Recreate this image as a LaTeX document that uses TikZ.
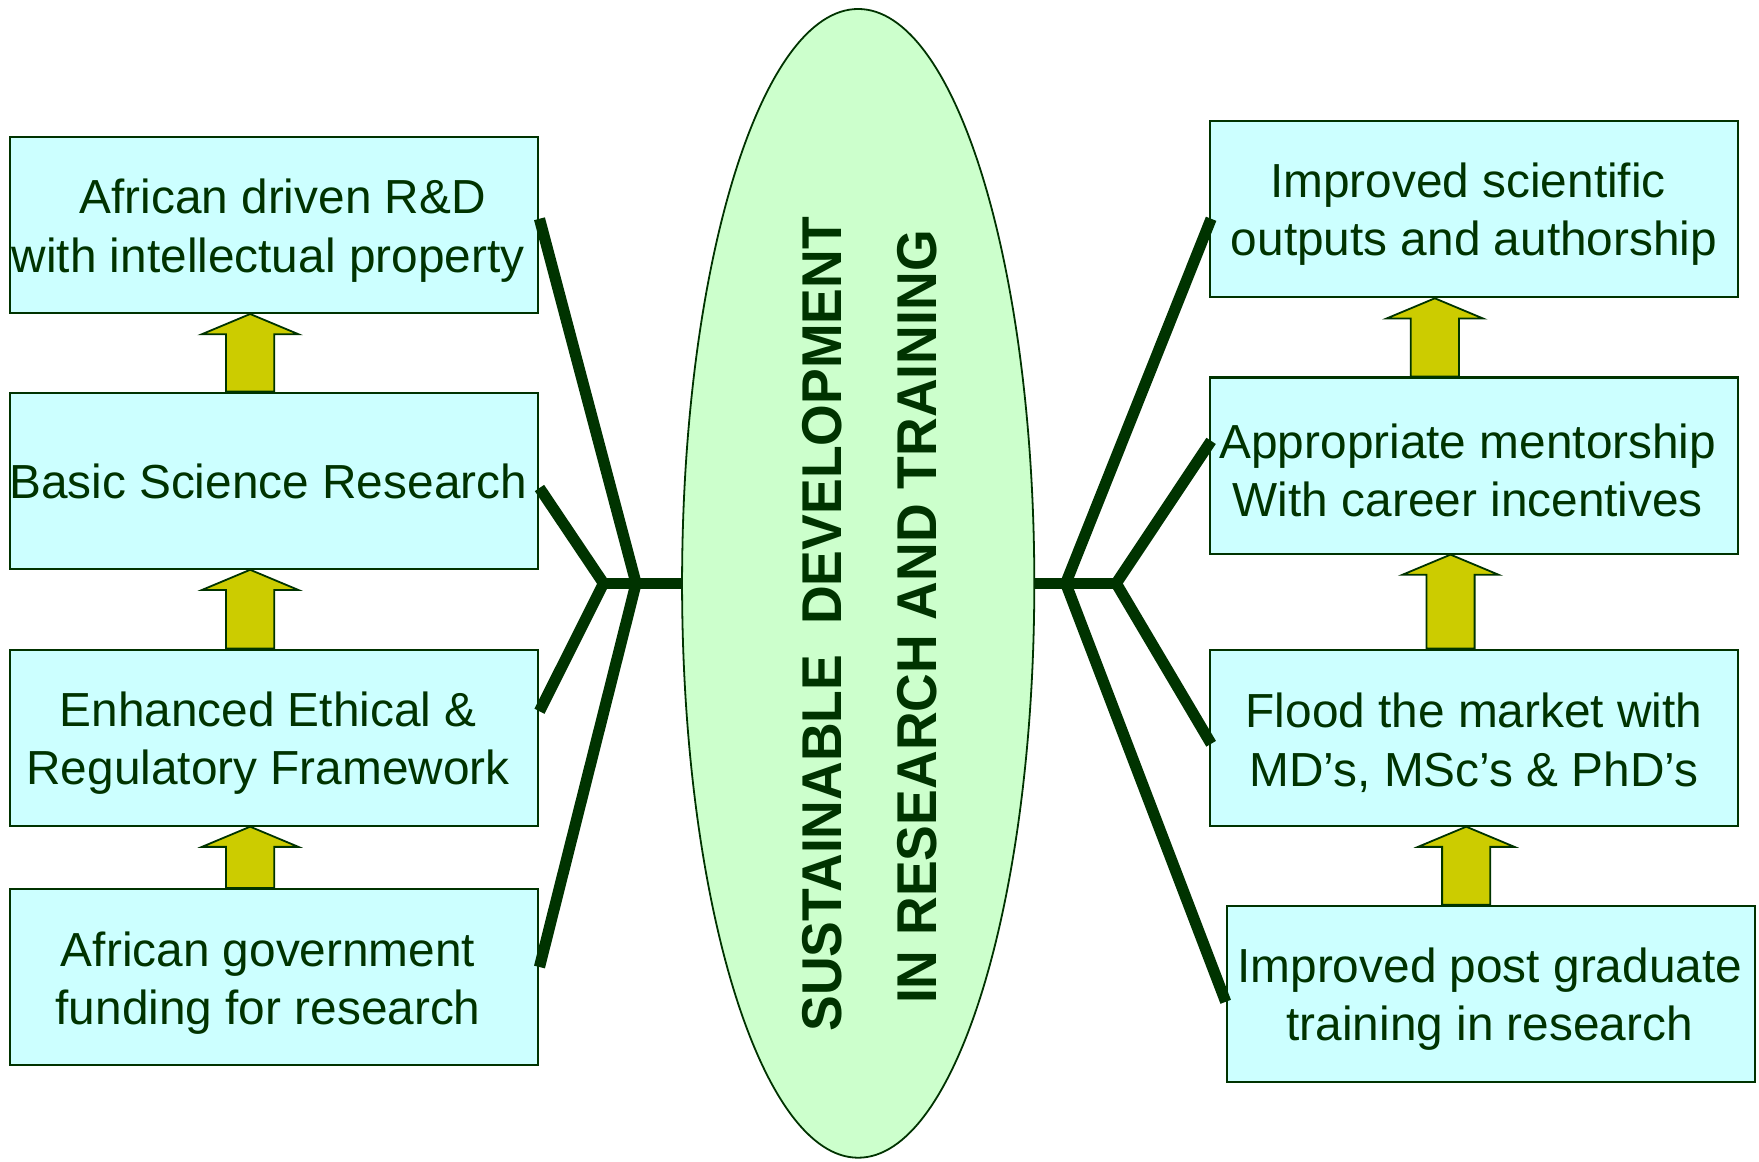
\documentclass[tikz,border=0pt]{standalone}
\usepackage{fontspec}
\setmainfont{Liberation Sans}
\newfontfamily\bannerfont[FakeStretch=0.955]{Liberation Sans}
\usetikzlibrary{shapes.geometric,calc}
\definecolor{ink}{HTML}{003300}
\definecolor{boxfill}{HTML}{CCFFFF}
\definecolor{ovalfill}{HTML}{CCFFCC}
\definecolor{arrowfill}{HTML}{CCCC00}

% block arrow rising from the top of one box to the bottom of the next
% #1 = centre x (picture units), #2 = lower box, #3 = upper box
\newcommand{\riser}[3]{%
  \filldraw[riserstyle] let \p1=(#2.north), \p2=(#3.south) in
    ({#1*0.5pt-10.75pt},\y1) -- ({#1*0.5pt-10.75pt},\y2-9pt)
    -- ({#1*0.5pt-21.5pt},\y2-9pt) -- ({#1*0.5pt},\y2)
    -- ({#1*0.5pt+21.5pt},\y2-9pt) -- ({#1*0.5pt+10.75pt},\y2-9pt)
    -- ({#1*0.5pt+10.75pt},\y1) -- cycle;}

\begin{document}
\begin{tikzpicture}[x=0.5pt,y=-0.5pt,
  stage/.style={draw=ink, line width=0.9pt, fill=boxfill,
    minimum width=235.5pt, minimum height=78.5pt, inner sep=0pt},
  caption/.style={inner sep=0pt, align=center, text=ink,
    font=\fontsize{21.3pt}{26pt}\selectfont},
  oval/.style={ellipse, draw=ink, line width=0.8pt, fill=ovalfill,
    minimum width=157pt, minimum height=512pt, inner sep=0pt},
  banner/.style={rotate=90, inner sep=0pt, text=ink,
    font=\bannerfont\bfseries\fontsize{25pt}{29pt}\selectfont},
  branch/.style={draw=ink, line width=5pt, line cap=butt, line join=miter},
  riserstyle/.style={draw=ink, line width=0.8pt, fill=arrowfill, line join=miter}]

\useasboundingbox (0,0) rectangle (1568,1035);

% left column
\node[stage] (b1) at (244.5,200.5) {};
\node[stage] (b2) at (244.5,428.5) {};
\node[stage] (b3) at (244.5,657.5) {};
\node[stage] (b4) at (244.5,871) {};
\node[caption] (b1text) at ($(b1)+(-5.5,5)$) {\hspace*{13pt}African driven R\&D\\with intellectual property};
\node[caption] (b2text) at ($(b2)+(-5.5,1)$) {Basic Science Research};
\node[caption] (b3text) at ($(b3)+(-5.5,5)$) {Enhanced Ethical \&\\Regulatory Framework};
\node[caption] (b4text) at ($(b4)+(-5.5,5.5)$) {African government\\funding for research};

% right column
\node[stage] (r1) at (1314,186.5) {};
\node[stage] (r2) at (1314,415) {};
\node[stage] (r3) at (1314,657.5) {};
\node[stage] (r4) at (1329,886) {};
\node[caption] (r1text) at ($(r1)+(0,4.5)$) {Improved scientific\hspace*{5.5pt}\\outputs and authorship};
\node[caption] (r2text) at ($(r2)+(-5.5,4.5)$) {Appropriate mentorship\\With career incentives};
\node[caption] (r3text) at ($(r3)+(0,4.5)$) {Flood the market with\\MD’s, MSc’s \& PhD’s};
\node[caption] (r4text) at ($(r4)+(-1,4.5)$) {Improved post graduate\\training in research};

% central oval
\node[oval] (oval) at (765,520) {};
\node[banner] (t1) at (733,556.5) {SUSTAINABLE\ \ DEVELOPMENT};
\node[banner] (t2) at (818,550) {IN RESEARCH AND TRAINING};

% branching connectors
\coordinate (lj1) at (567,520);
\coordinate (lj2) at (538,520);
\coordinate (rj1) at (950,520);
\coordinate (rj2) at (995,520);

\draw[branch] ($(b1.east)+(0,-5.5)$) -- (lj1) -- ($(b4.east)+(0,-9)$);
\draw[branch] ($(b2.east)+(0,6.5)$) -- (lj2) -- ($(b3.east)+(0,-23.5)$);
\draw[branch] (lj2) -- (oval.west);

\draw[branch] ($(r1.west)+(2,8.5)$) -- (rj1) -- ($(r4.west)+(0,7)$);
\draw[branch] ($(r2.west)+(2,-22)$) -- (rj2) -- ($(r3.west)+(2,5.5)$);
\draw[branch] (oval.east) -- (rj2);

% rising arrows
\riser{223}{b2}{b1}
\riser{223}{b3}{b2}
\riser{223}{b4}{b3}
\riser{1279}{r2}{r1}
\riser{1293}{r3}{r2}
\riser{1307}{r4}{r3}

\end{tikzpicture}
\end{document}
